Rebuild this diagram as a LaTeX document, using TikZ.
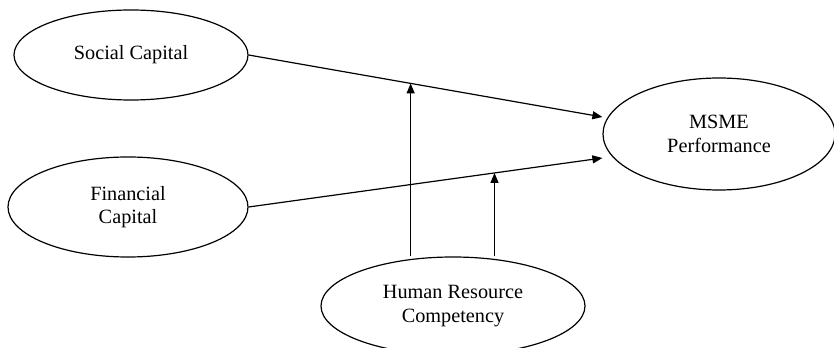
\documentclass[tikz,border=0pt]{standalone}
\usepackage{fontspec}
\setmainfont{Liberation Serif}
\usepackage{amssymb,amsmath}
\usepackage{pgf,tikz}
\usetikzlibrary{shapes.geometric, arrows.meta}

\begin{document}
\begin{tikzpicture}[x=0.75pt,y=0.75pt,yscale=-1,xscale=1,
  oval/.style={ellipse, draw, line width=0.9pt, inner sep=0pt, align=center,
    font=\fontsize{15.2}{17.5}\selectfont},
  link/.style={line width=0.9pt, -{Triangle[length=7.5pt,width=6pt]}}]
%set diagram left start at 0, and has height of 348
\useasboundingbox (0,0) rectangle (834,348);

%Shape: Ellipse [id:social]
\node [oval, minimum width=175.5pt, minimum height=67.5pt] (social) at (131,55) {Social Capital};
%Shape: Ellipse [id:financial]
\node [oval, minimum width=180pt, minimum height=75pt] (financial) at (128,207) {Financial\\Capital};
%Shape: Ellipse [id:msme]
\node [oval, minimum width=174pt, minimum height=84pt] (msme) at (719,134) {MSME\\Performance};
%Shape: Ellipse [id:hrc]
\node [oval, minimum width=198pt, minimum height=73.5pt] (hrc) at (453,306) {Human Resource\\Competency};

%Straight Lines [id:social-msme]
\draw [link] (social.east) -- coordinate[pos=0.458] (mod1) ([yshift=-12.75pt]msme.west);
%Straight Lines [id:financial-msme]
\draw [link] (financial.east) -- coordinate[pos=0.695] (mod2) ([yshift=18pt]msme.west);
%Straight Lines [id:hrc-moderation]
\draw [link] (hrc.north -| mod1) -- (mod1);
\draw [link] (hrc.north -| mod2) -- (mod2);

\end{tikzpicture}
\end{document}
